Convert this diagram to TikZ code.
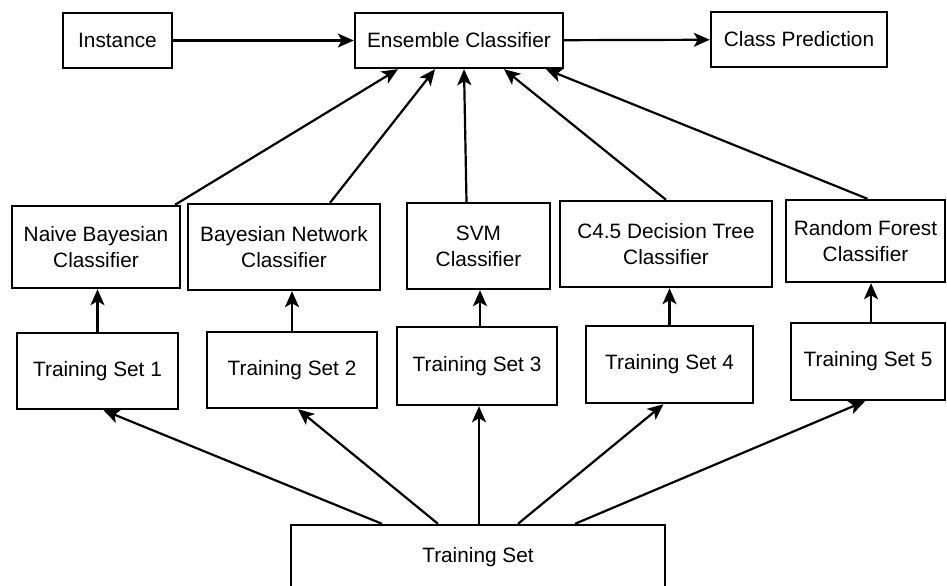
\documentclass[tikz,border=0pt]{standalone}
\usepackage{fontspec}
\setmainfont{Liberation Sans}
\usetikzlibrary{arrows.meta}

\tikzset{
  block/.style={draw, line width=1.2pt, align=center, inner sep=0pt,
    font=\fontsize{10.4}{13}\selectfont},
  conn/.style={-{Stealth[length=8pt,width=7pt,inset=2pt]}, line width=1.1pt},
}

\begin{document}
\begin{tikzpicture}[x=0.5pt,y=-0.5pt]
  \useasboundingbox (0,0) rectangle (947,585);

  % Top row
  \node[block, minimum width=54.5pt, minimum height=27.5pt] (inst) at (117.5,40.5) {Instance};
  \node[block, minimum width=104pt, minimum height=27.5pt] (ens) at (459,40.5) {Ensemble Classifier};
  \node[block, minimum width=88pt, minimum height=27.5pt] (pred) at (799,39.5) {Class Prediction};

  % Classifiers
  \node[block, minimum width=84pt, minimum height=41pt] (nb) at (96,247) {Naive Bayesian\\Classifier};
  \node[block, minimum width=96pt, minimum height=43pt] (bn) at (284,247) {Bayesian Network\\Classifier};
  \node[block, minimum width=71.5pt, minimum height=43pt] (svm) at (478.5,246) {SVM\\Classifier};
  \node[block, minimum width=106pt, minimum height=43pt] (dt) at (666,244) {C4.5 Decision Tree\\Classifier};
  \node[block, minimum width=79.5pt, minimum height=41pt] (rf) at (865.5,241) {Random Forest\\Classifier};

  % Training subsets
  \node[block, minimum width=80.5pt, minimum height=38pt] (ts1) at (97.5,371) {Training Set 1};
  \node[block, minimum width=85pt, minimum height=38pt] (ts2) at (292,370) {Training Set 2};
  \node[block, minimum width=80pt, minimum height=39pt] (ts3) at (477,366) {Training Set 3};
  \node[block, minimum width=83.5pt, minimum height=38.5pt] (ts4) at (669.5,364.5) {Training Set 4};
  \node[block, minimum width=77pt, minimum height=38.5pt] (ts5) at (868,361.5) {Training Set 5};

  % Full training set (runs off the bottom edge)
  \node[block, minimum width=187pt, minimum height=32.5pt] (ts) at (478,557.5) {Training Set};

  % Top flow
  \draw[conn] (inst) -- (ens);
  \draw[conn] (ens) -- (pred);

  % Classifiers into the ensemble
  \draw[conn] ([xshift=39.5pt]nb.north) -- ([xshift=-30.5pt]ens.south);
  \draw[conn] ([xshift=23pt]bn.north) -- ([xshift=-12pt]ens.south);
  \draw[conn] ([xshift=-6pt]svm.north) -- ([xshift=2.5pt]ens.south);
  \draw[conn] (dt.north) -- ([xshift=22.5pt]ens.south);
  \draw[conn] ([xshift=1pt]rf.north) -- ([xshift=43.5pt]ens.south);

  % Subsets train the classifiers
  \draw[conn] (ts1.north) -- (ts1.north |- nb.south);
  \draw[conn] (ts2.north) -- (ts2.north |- bn.south);
  \draw[conn] ([xshift=1.5pt]ts3.north) -- ([xshift=1.5pt]ts3.north |- svm.south);
  \draw[conn] (ts4.north) -- (ts4.north |- dt.south);
  \draw[conn] ([xshift=1.5pt]ts5.north) -- ([xshift=1.5pt]ts5.north |- rf.south);

  % Sampling the subsets
  \draw[conn] ([xshift=-48pt]ts.north) -- ([xshift=3pt]ts1.south);
  \draw[conn] ([xshift=-20pt]ts.north) -- ([xshift=3pt]ts2.south);
  \draw[conn] ([xshift=0.5pt]ts.north) -- ([xshift=1pt]ts3.south);
  \draw[conn] ([xshift=20pt]ts.north) -- ([xshift=-3pt]ts4.south);
  \draw[conn] ([xshift=48.5pt]ts.north) -- ([xshift=-1.5pt]ts5.south);
\end{tikzpicture}
\end{document}
